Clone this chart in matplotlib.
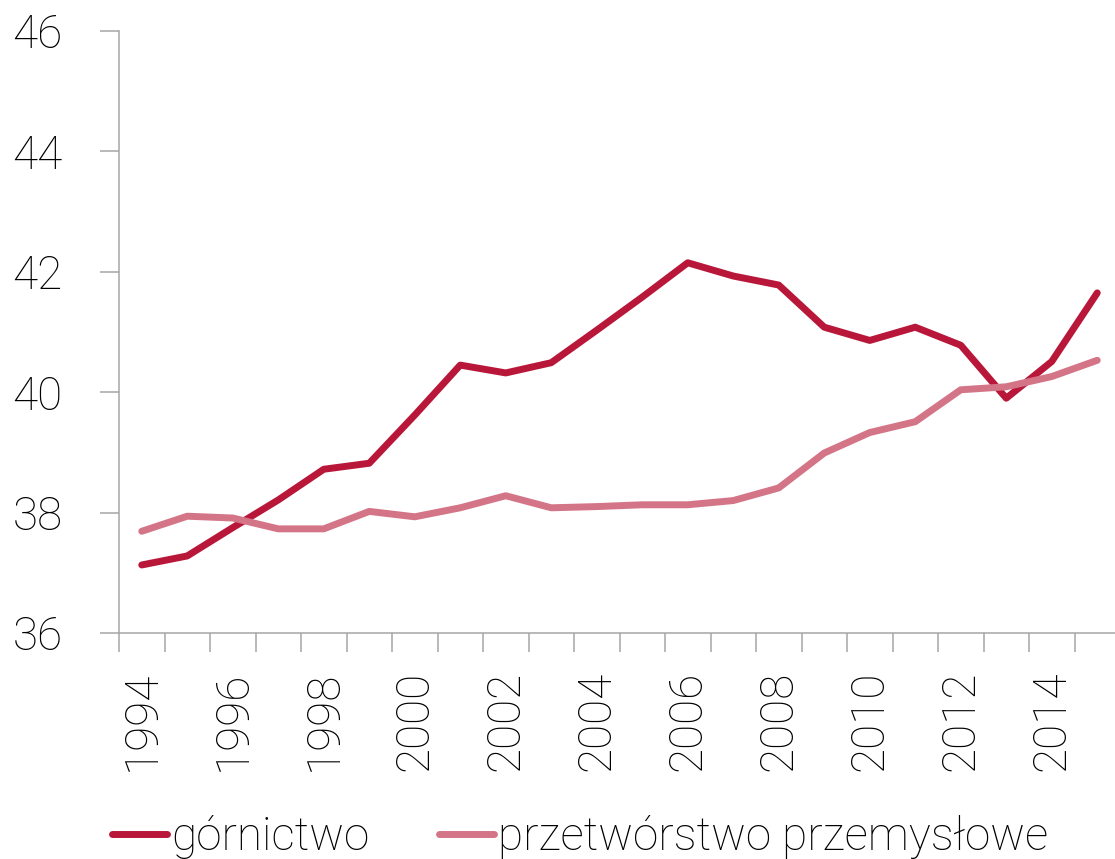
import matplotlib
matplotlib.use('Agg')
import matplotlib.pyplot as plt
import numpy as np

#--- Data ---
years = list(range(1994, 2016))
gornictwo = [37.13, 37.28, 37.75, 38.21, 38.72, 38.82, 39.62, 40.45, 40.32, 40.49, 41.03,
             41.58, 42.15, 41.93, 41.78, 41.08, 40.86, 41.08, 40.78, 39.90, 40.51, 41.65]
przetworstwo = [37.69, 37.94, 37.91, 37.73, 37.73, 38.02, 37.93, 38.08, 38.28, 38.08, 38.10,
                38.13, 38.13, 38.20, 38.41, 38.99, 39.33, 39.51, 40.04, 40.09, 40.26, 40.53]
names = ['górnictwo', 'przetwórstwo przemysłowe']

#--- Styles ---
plt.rcParams['font.family'] = ['Roboto', 'DejaVu Sans']
plt.rcParams['font.weight'] = 'light'
FontSize = 33
red = '#B8173A'
pink = '#D47487'
grey = '#A6A6A6'
LineW = 5.0

fig = plt.figure(figsize=(11.15, 8.59), dpi=100)
ax = fig.add_axes([119/1115, (859-633)/859, (1120-119)/1115, (633-31)/859])

xx = np.arange(len(years))
ax.plot(xx, gornictwo, color=red, lw=LineW, solid_capstyle='round',
        solid_joinstyle='round', label=names[0])
ax.plot(xx, przetworstwo, color=pink, lw=LineW, solid_capstyle='round',
        solid_joinstyle='round', label=names[1])

ax.set_xlim(-0.5, len(years) - 0.5)
ax.set_ylim(36, 46)
ax.set_yticks(np.arange(36, 47, 2))

# category axis: tick marks between categories, labels in the centres
ax.set_xticks(np.arange(-0.5, len(years), 1.0))
ax.set_xticklabels([])
ax.set_xticks(xx[::2], minor=True)
ax.set_xticklabels([str(y) for y in years[::2]], minor=True, rotation=90)

for s in ['top', 'right']:
    ax.spines[s].set_visible(False)
for s in ['left', 'bottom']:
    ax.spines[s].set_color(grey)
    ax.spines[s].set_linewidth(1.1)

ax.tick_params(axis='both', which='major', direction='out', length=13.7,
               width=1.1, color=grey, labelsize=FontSize)
ax.tick_params(axis='y', pad=27)
ax.tick_params(axis='x', which='minor', length=0, pad=27, labelsize=FontSize)

fig.legend(loc='lower left', bbox_to_anchor=(112/1115, 0.0), ncol=2,
           frameon=False, fontsize=FontSize, handlelength=1.2,
           handletextpad=0.1, columnspacing=1.5, borderpad=0, borderaxespad=0)

plt.savefig('out.png', dpi=100)
plt.close()
